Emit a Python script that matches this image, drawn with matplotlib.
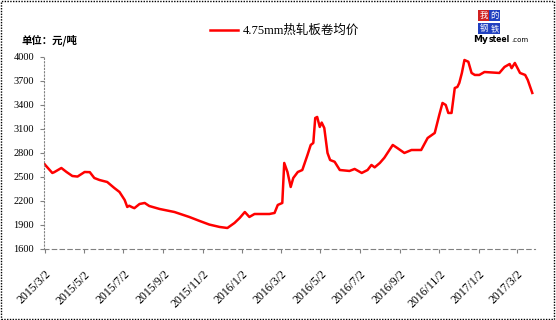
import matplotlib
matplotlib.use("Agg")
import matplotlib.pyplot as plt
from matplotlib.patches import Rectangle
from matplotlib.transforms import ScaledTranslation
import pandas as pd

# 4.75mm hot-rolled coil average price (yuan/ton)
dates = [
    "2015-03-02", "2015-03-03", "2015-03-14", "2015-03-17", "2015-03-28", "2015-04-05",
    "2015-04-14", "2015-04-22", "2015-05-03", "2015-05-11", "2015-05-18", "2015-05-26",
    "2015-06-07", "2015-06-18", "2015-06-26", "2015-07-04", "2015-07-08", "2015-07-11",
    "2015-07-16", "2015-07-19", "2015-07-27", "2015-08-04", "2015-08-11", "2015-08-27",
    "2015-09-19", "2015-10-12", "2015-10-28", "2015-11-12", "2015-11-28", "2015-12-10",
    "2015-12-21", "2015-12-29", "2016-01-06", "2016-01-13", "2016-01-21", "2016-02-13",
    "2016-02-21", "2016-02-26", "2016-03-04", "2016-03-07", "2016-03-12", "2016-03-17",
    "2016-03-21", "2016-03-28", "2016-04-04", "2016-04-12", "2016-04-17", "2016-04-21",
    "2016-04-24", "2016-04-27", "2016-05-01", "2016-05-04", "2016-05-08", "2016-05-13",
    "2016-05-17", "2016-05-24", "2016-06-01", "2016-06-16", "2016-06-24", "2016-07-05",
    "2016-07-14", "2016-07-20", "2016-07-25", "2016-08-02", "2016-08-09", "2016-08-22",
    "2016-08-29", "2016-09-09", "2016-09-20", "2016-10-05", "2016-10-15", "2016-10-26",
    "2016-11-02", "2016-11-07", "2016-11-12", "2016-11-16", "2016-11-21", "2016-11-26",
    "2016-11-30", "2016-12-03", "2016-12-07", "2016-12-11", "2016-12-17", "2016-12-22",
    "2016-12-27", "2017-01-03", "2017-01-11", "2017-02-03", "2017-02-11", "2017-02-19",
    "2017-02-22", "2017-02-27", "2017-03-07", "2017-03-15", "2017-03-19", "2017-03-26",
]
prices = [
    2660, 2650, 2550, 2560, 2612, 2562,
    2512, 2505, 2562, 2560, 2487, 2462,
    2437, 2362, 2312, 2212, 2125, 2140,
    2120, 2110, 2162, 2175, 2137, 2100,
    2062, 2000, 1950, 1905, 1875, 1862,
    1925, 1987, 2062, 2000, 2037, 2037,
    2050, 2150, 2175, 2675, 2562, 2375,
    2487, 2562, 2587, 2775, 2900, 2925,
    3237, 3250, 3125, 3180, 3112, 2800,
    2712, 2690, 2587, 2575, 2600, 2550,
    2587, 2650, 2620, 2675, 2740, 2900,
    2862, 2800, 2837, 2837, 2987, 3050,
    3275, 3425, 3400, 3300, 3300, 3612,
    3625, 3675, 3800, 3962, 3940, 3800,
    3775, 3775, 3812, 3800, 3875, 3912,
    3860, 3925, 3800, 3775, 3712, 3550,
]
tick_dates = pd.date_range("2015-03-01", "2017-03-01", freq="2MS") + pd.Timedelta(days=1)
tick_labels = [f"{d.year}/{d.month}/{d.day}" for d in tick_dates]
y_ticks = [1600, 1900, 2200, 2500, 2800, 3100, 3400, 3700, 4000]

serif = ["Liberation Serif", "Noto Sans CJK SC"]
cjk = ["Noto Sans CJK SC", "DejaVu Sans"]

fig = plt.figure(figsize=(5.56, 3.2), dpi=100)
ax = fig.add_axes([0.079, 0.222, 0.883, 0.600])

x = pd.to_datetime(dates)
ax.plot(x, prices, color="#ff0000", lw=1.8, label="4.75mm热轧板卷均价")

ax.set_ylim(1600, 4000)
ax.set_yticks(y_ticks)
ax.set_yticklabels([str(v) for v in y_ticks], fontsize=7.5, family=serif)
ax.set_xlim(pd.Timestamp("2015-03-01"), pd.Timestamp("2017-03-30"))
ax.set_xticks(tick_dates)
ax.set_xticklabels(tick_labels, rotation=45, ha="right", rotation_mode="anchor",
                   fontsize=8.5, family=serif)
shift = ScaledTranslation(0.05, 0, fig.dpi_scale_trans)
for lab in ax.get_xticklabels():
    lab.set_transform(lab.get_transform() + shift)

for side in ["top", "right"]:
    ax.spines[side].set_visible(False)
ax.spines["left"].set_linestyle((0, (1, 2)))
ax.spines["left"].set_color("#808080")
ax.spines["bottom"].set_linestyle((0, (4, 3)))
ax.spines["bottom"].set_color("#808080")
ax.tick_params(axis="both", length=3, color="#808080")
ax.tick_params(axis="x", pad=11)
ax.tick_params(axis="y", pad=4)

# legend and unit label
leg = ax.legend(loc="upper center", bbox_to_anchor=(0.49, 1.225), frameon=False,
                handlelength=2.2, handletextpad=0.4, prop={"family": serif, "size": 9})
fig.text(0.038, 0.865, "单位：元/吨", fontsize=7.5, fontweight="bold", family=cjk)

# Mysteel logo
box = dict(boxstyle="square,pad=0.12", ec="none")
fig.text(0.862, 0.945, "我", fontsize=6, color="white", family=cjk, bbox=dict(box, fc="#d02020"))
fig.text(0.882, 0.945, "的", fontsize=6, color="white", family=cjk, bbox=dict(box, fc="#2040c0"))
fig.text(0.862, 0.903, "钢", fontsize=6, color="white", family=cjk, bbox=dict(box, fc="#2040c0"))
fig.text(0.882, 0.903, "铁", fontsize=6, color="white", family=cjk, bbox=dict(box, fc="#2040c0"))
fig.text(0.851, 0.870, "My", fontsize=6.5, fontweight="bold", family="DejaVu Sans")
fig.text(0.878, 0.870, "steel", fontsize=5.5, fontweight="bold", family="DejaVu Sans")
fig.text(0.920, 0.870, ".com", fontsize=5, family="DejaVu Sans")

# dotted border round the whole picture
fig.patches.append(Rectangle((0.002, 0.003), 0.995, 0.993, transform=fig.transFigure,
                             fill=False, ec="black", lw=1, ls=(0, (1, 1))))

fig.savefig("out.png", dpi=100)
